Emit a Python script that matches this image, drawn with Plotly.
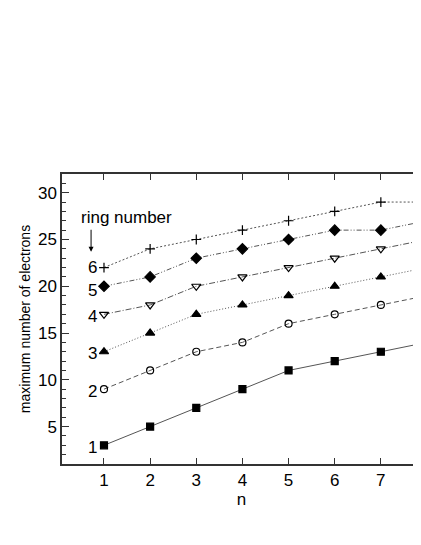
import plotly.graph_objects as go

# Max electrons per ring versus n.
n = [1, 2, 3, 4, 5, 6, 7, 8]
ring1 = [3, 5, 7, 9, 11, 12, 13, 14]
ring2 = [9, 11, 13, 14, 16, 17, 18, 19]
ring3 = [13, 15, 17, 18, 19, 20, 21, 22]
ring4 = [17, 18, 20, 21, 22, 23, 24, 25]
ring5 = [20, 21, 23, 24, 25, 26, 26, 27]
ring6 = [22, 24, 25, 26, 27, 28, 29, 29]
ring_labels = ['1', '2', '3', '4', '5', '6']

FONT = 'Liberation Sans, Arial, sans-serif'
LINE = '#555555'

styles = [
    dict(symbol='square', size=7, dash='solid'),
    dict(symbol='circle-open', size=7, dash='5px,3px'),
    dict(symbol='triangle-up', size=8, dash='1px,2px'),
    dict(symbol='triangle-down-open', size=8, dash='6px,2px,1px,2px'),
    dict(symbol='diamond', size=8, dash='5px,2px,1px,2px,1px,2px'),
    dict(symbol='cross-thin-open', size=7, dash='2px,2px'),
]

fig = go.Figure()
for ys, st in zip([ring1, ring2, ring3, ring4, ring5, ring6], styles):
    fig.add_trace(go.Scatter(
        x=n, y=ys, mode='lines+markers',
        line=dict(color=LINE, width=1, dash=st['dash']),
        marker=dict(symbol=st['symbol'], size=st['size'], color='black',
                    line=dict(color='black', width=1.2)),
        cliponaxis=False, showlegend=False,
    ))

# ring numbers to the left of the first points
shifts = [-2, -2, -2, -2, -4, 0]
for ys, lab, sh in zip([ring1, ring2, ring3, ring4, ring5, ring6],
                       ring_labels, shifts):
    fig.add_annotation(x=n[0], y=ys[0], text=lab, showarrow=False,
                       xanchor='right', xshift=-5, yshift=sh,
                       font=dict(size=17, color='black', family=FONT))

fig.add_annotation(x=0.45, y=27.4, xref='x', yref='y', text='ring number',
                   showarrow=False, xanchor='left',
                   font=dict(size=17, color='black', family=FONT))
fig.add_annotation(x=0.72, y=23.7, ax=0.72, ay=26.2, xref='x', yref='y',
                   axref='x', ayref='y', text='', showarrow=True,
                   arrowhead=2, arrowsize=1, arrowwidth=1, arrowcolor='black')

fig.update_layout(
    width=413, height=529,
    margin=dict(l=54, r=0, t=166, b=73),
    plot_bgcolor='white', paper_bgcolor='white',
    font=dict(family=FONT, color='black', size=17),
    xaxis=dict(
        range=[0.09, 7.87], tickvals=[1, 2, 3, 4, 5, 6, 7],
        ticks='inside', ticklen=6, tickcolor='#333', showline=True,
        linecolor='#333', linewidth=1.5, showgrid=False, zeroline=False,
        title=dict(text='n', font=dict(size=17), standoff=4),
    ),
    xaxis2=dict(
        range=[0.09, 7.87], tickvals=[1, 2, 3, 4, 5, 6, 7], overlaying='x',
        side='top', ticks='inside', ticklen=6, tickcolor='#333',
        showline=True, linecolor='#333', linewidth=1.5, showticklabels=False,
        showgrid=False, zeroline=False,
    ),
    yaxis=dict(
        range=[1, 32], tickvals=[5, 10, 15, 20, 25, 30],
        ticks='inside', ticklen=7, tickcolor='#333', showline=True,
        linecolor='#333', linewidth=1.5, showgrid=False, zeroline=False,
        minor=dict(dtick=1, ticks='inside', ticklen=4, tickcolor='#333'),
        title=dict(text='maximum number of electrons',
                   font=dict(size=14), standoff=4),
    ),
)
fig.add_trace(go.Scatter(x=[None], y=[None], xaxis='x2', showlegend=False))

fig.write_html('out.html')
